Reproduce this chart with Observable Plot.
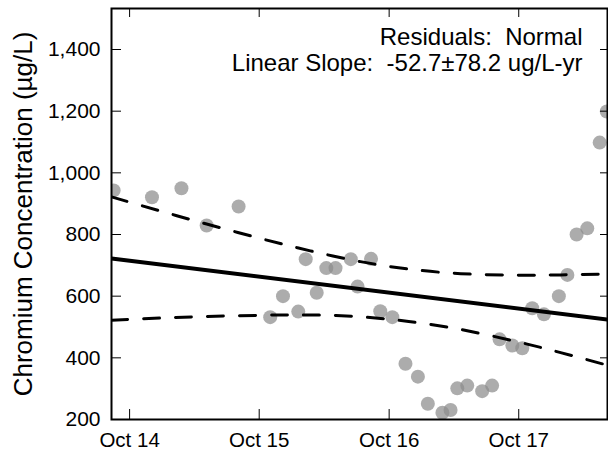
<!DOCTYPE html>
<html><head><meta charset="utf-8">
<script src="https://cdn.jsdelivr.net/npm/d3@7"></script>
<script src="https://cdn.jsdelivr.net/npm/@observablehq/plot@0.6"></script>
<style>
body{margin:0;background:#fff}
#chart svg{display:block}
#chart svg text{white-space:pre}
</style>
</head><body><div id="chart"></div>
<script>
// Sampled chromium concentrations (µg/L)
const sampleDates = [
  "2014-08-17","2014-12-03","2015-02-24","2015-05-06","2015-08-04",
  "2015-11-01","2015-12-07","2016-01-19","2016-02-09","2016-03-11",
  "2016-04-07","2016-05-03","2016-06-15","2016-07-04","2016-08-11",
  "2016-09-06","2016-10-10","2016-11-16","2016-12-21","2017-01-18",
  "2017-02-28","2017-03-23","2017-04-11","2017-05-09","2017-06-20",
  "2017-07-18","2017-08-08","2017-09-13","2017-10-11","2017-11-08",
  "2017-12-11","2018-01-22","2018-02-15","2018-03-13","2018-04-12",
  "2018-05-17","2018-06-06"
];
const chromium = [
  943, 921, 950, 829, 891,
  532, 600, 550, 720, 611,
  691, 691, 720, 631, 721,
  551, 532, 381, 339, 251,
  222, 231, 301, 310, 292,
  310, 460, 440, 431, 561,
  541, 600, 669, 800, 820,
  1098, 1199
];

// Linear trend line
const fitDates = ["2014-08-11", "2018-06-08"];
const fitValues = [722, 524];

// Confidence band (dashed)
const bandDates = [
  "2014-08-11","2014-12-27","2015-05-06","2015-10-05","2016-02-22",
  "2016-07-12","2016-11-25","2017-04-21","2017-10-01","2018-01-27","2018-06-08"
];
const upperValues = [922, 876, 834, 787, 747, 712, 688, 673, 668, 669, 672];
const lowerValues = [522, 529, 534, 538, 539, 533, 518, 492, 451, 417, 376];

// Axes
const xDomain = ["2014-08-11", "2018-06-08"];
const yDomain = [200, 1533];
const xTickDates = ["2014-10-01","2015-10-01","2016-10-01","2017-10-01"];
const xTickLabels = ["Oct 14","Oct 15","Oct 16","Oct 17"];
const yTicks = [200, 400, 600, 800, 1000, 1200, 1400];
const yTickLabels = ["200","400","600","800","1,000","1,200","1,400"];

const yLabel = "Chromium Concentration (µg/L)";
const annotations = ["Residuals:  Normal", "Linear Slope:  -52.7±78.2 ug/L-yr"];

const parse = d3.utcParse("%Y-%m-%d");
const samples = sampleDates.map((d, i) => ({date: parse(d), value: chromium[i]}));
const fit = fitDates.map((d, i) => ({date: parse(d), value: fitValues[i]}));
const upper = bandDates.map((d, i) => ({date: parse(d), value: upperValues[i]}));
const lower = bandDates.map((d, i) => ({date: parse(d), value: lowerValues[i]}));
const xTicks = xTickDates.map(parse);
const xLabelOf = new Map(xTicks.map((d, i) => [+d, xTickLabels[i]]));
const yLabelOf = new Map(yTicks.map((d, i) => [d, yTickLabels[i]]));

const plot = Plot.plot({
  width: 608,
  height: 451,
  marginLeft: 111,
  marginRight: 1,
  marginTop: 8,
  marginBottom: 32,
  style: {fontFamily: "'Liberation Sans', Arial, sans-serif", background: "#fff", color: "#000"},
  x: {type: "utc", domain: xDomain.map(parse)},
  y: {domain: yDomain},
  marks: [
    Plot.dot(samples, {x: "date", y: "value", r: 7, fill: "#8c8c8c", fillOpacity: 0.72, clip: true}),
    Plot.line(fit, {x: "date", y: "value", stroke: "#000", strokeWidth: 4, clip: true}),
    Plot.line(upper, {x: "date", y: "value", stroke: "#000", strokeWidth: 3, strokeDasharray: "16,16", curve: "natural", clip: true}),
    Plot.line(lower, {x: "date", y: "value", stroke: "#000", strokeWidth: 3, strokeDasharray: "16,16", curve: "natural", clip: true}),
    Plot.axisX({ticks: xTicks, tickFormat: d => xLabelOf.get(+d), tickSize: -10, tickPadding: 23, fontSize: 20.5, label: null}),
    Plot.axisX({anchor: "top", ticks: xTicks, tickSize: -8, tickFormat: () => "", label: null}),
    Plot.axisY({ticks: yTicks, tickFormat: d => yLabelOf.get(d), tickSize: -10, tickPadding: 21, fontSize: 21, label: null}),
    Plot.axisY({anchor: "right", ticks: yTicks, tickSize: -8, tickFormat: () => "", label: null}),
    Plot.frame({stroke: "#000", strokeWidth: 2}),
    Plot.text([yLabel], {text: d => d, frameAnchor: "left", textAnchor: "middle", rotate: -90, dx: -88, fontSize: 26, lineAnchor: "middle"}),
    Plot.text([annotations[0]], {text: d => d, frameAnchor: "top-right", textAnchor: "end", lineAnchor: "top", dx: -25, dy: 19, fontSize: 24}),
    Plot.text([annotations[1]], {text: d => d, frameAnchor: "top-right", textAnchor: "end", lineAnchor: "top", dx: -25, dy: 45, fontSize: 24})
  ]
});
document.getElementById("chart").appendChild(plot);
</script>
</body></html>
